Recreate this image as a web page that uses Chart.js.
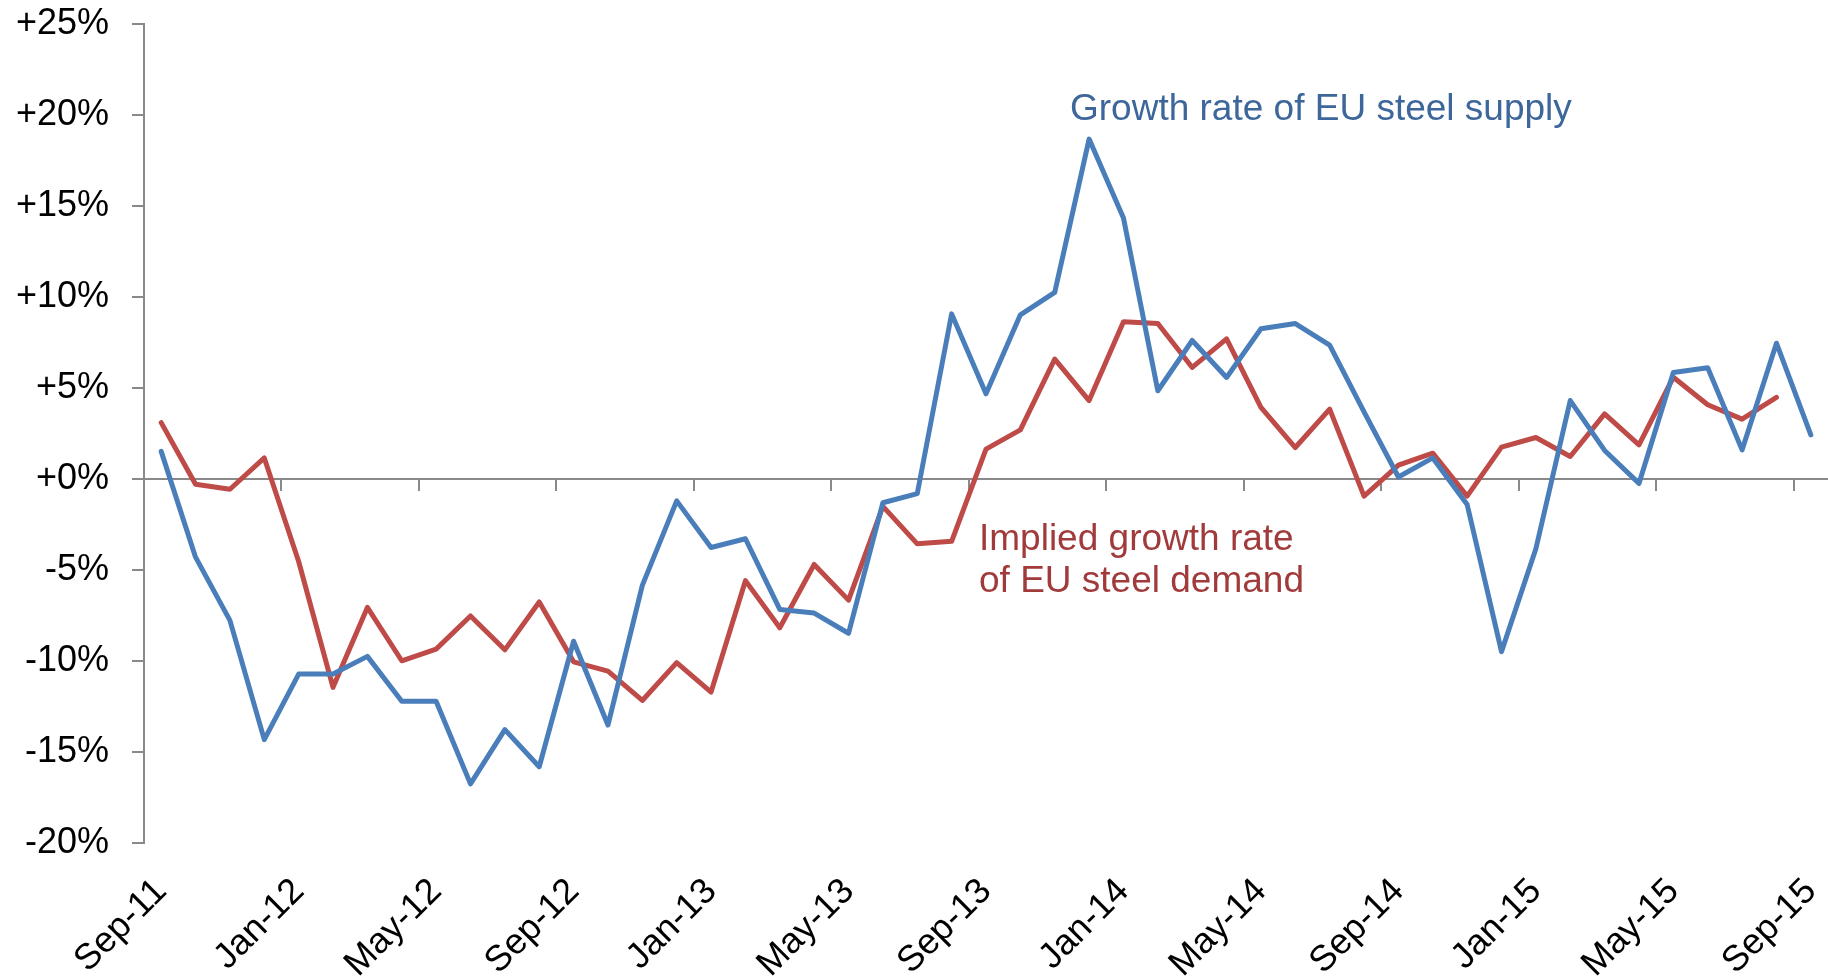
<!DOCTYPE html>
<html>
<head>
<meta charset="utf-8">
<script src="https://cdn.jsdelivr.net/npm/chart.js@4.4.1/dist/chart.umd.min.js"></script>
<style>
  html, body { margin: 0; padding: 0; background: #ffffff; }
  #wrap { width: 1828px; height: 976px; position: relative; }
</style>
</head>
<body>
<div id="wrap"><canvas id="c"></canvas></div>
<script>
// ---- data ----
const categories = [
  'Sep-11','Oct-11','Nov-11','Dec-11',
  'Jan-12','Feb-12','Mar-12','Apr-12','May-12','Jun-12','Jul-12','Aug-12','Sep-12','Oct-12','Nov-12','Dec-12',
  'Jan-13','Feb-13','Mar-13','Apr-13','May-13','Jun-13','Jul-13','Aug-13','Sep-13','Oct-13','Nov-13','Dec-13',
  'Jan-14','Feb-14','Mar-14','Apr-14','May-14','Jun-14','Jul-14','Aug-14','Sep-14','Oct-14','Nov-14','Dec-14',
  'Jan-15','Feb-15','Mar-15','Apr-15','May-15','Jun-15','Jul-15','Aug-15','Sep-15'
];

const supplyGrowth = [
  1.53, -4.28, -7.75, -14.30,
  -10.70, -10.70, -9.73, -12.19, -12.19, -16.73, -13.75, -15.79, -8.90, -13.50, -5.83, -1.19,
  -3.75, -3.27, -7.15, -7.35, -8.46, -1.29, -0.79, 9.08, 4.69, 9.03, 10.26, 18.68,
  14.34, 4.86, 7.62, 5.59, 8.26, 8.55, 7.36, 3.70, 0.12, 1.17, -1.39, -9.47,
  -3.82, 4.32, 1.58, -0.23, 5.86, 6.12, 1.61, 7.47, 2.44
];

const demandGrowth = [
  3.11, -0.28, -0.55, 1.17,
  -4.52, -11.43, -7.04, -9.97, -9.33, -7.51, -9.37, -6.74, -10.03, -10.54, -12.15, -10.07,
  -11.69, -5.57, -8.16, -4.68, -6.64, -1.49, -3.55, -3.41, 1.65, 2.71, 6.60, 4.32,
  8.65, 8.55, 6.14, 7.71, 3.94, 1.74, 3.85, -0.93, 0.77, 1.43, -0.93, 1.76,
  2.29, 1.25, 3.59, 1.89, 5.60, 4.09, 3.30, 4.50, null
];

const yTicks = [-20, -15, -10, -5, 0, 5, 10, 15, 20, 25];
const supplyLabel = 'Growth rate of EU steel supply';
const demandLabelLines = ['Implied growth rate', 'of EU steel demand'];

// ---- styles ----
const BLUE = '#4A7EBB';
const RED = '#BE4B48';
const BLUE_TEXT = '#3D679A';
const RED_TEXT = '#A13B3B';
const AXIS_GRAY = '#898989';
const FONT_FAMILY = '"Liberation Sans", Arial, Helvetica, sans-serif';

Chart.defaults.font.family = FONT_FAMILY;

const annotationPlugin = {
  id: 'seriesNotes',
  afterDatasetsDraw(chart) {
    const ctx = chart.ctx;
    ctx.save();
    ctx.textAlign = 'left';
    ctx.textBaseline = 'alphabetic';
    ctx.font = '37px ' + FONT_FAMILY;
    ctx.fillStyle = BLUE_TEXT;
    ctx.fillText(supplyLabel, 1070, 120);
    ctx.fillStyle = RED_TEXT;
    ctx.fillText(demandLabelLines[0], 979, 550);
    ctx.fillText(demandLabelLines[1], 979, 592);
    ctx.restore();
  }
};

new Chart(document.getElementById('c'), {
  type: 'line',
  data: {
    labels: categories,
    datasets: [
      {
        label: supplyLabel,
        data: supplyGrowth,
        borderColor: BLUE,
        backgroundColor: BLUE,
        borderWidth: 5,
        pointRadius: 0,
        tension: 0,
        borderJoinStyle: 'round',
        borderCapStyle: 'round',
        xAxisID: 'x',
        yAxisID: 'y'
      },
      {
        label: demandLabelLines.join(' '),
        data: demandGrowth,
        borderColor: RED,
        backgroundColor: RED,
        borderWidth: 5,
        pointRadius: 0,
        tension: 0,
        borderJoinStyle: 'round',
        borderCapStyle: 'round',
        spanGaps: false,
        xAxisID: 'x',
        yAxisID: 'y'
      }
    ]
  },
  options: {
    responsive: true,
    maintainAspectRatio: false,
    animation: false,
    layout: { padding: { top: 24, right: 0, bottom: 0, left: 0 } },
    plugins: {
      legend: { display: false },
      tooltip: { enabled: false }
    },
    scales: {
      x: {
        type: 'category',
        position: 'bottom',
        offset: true,
        grid: { display: false, drawTicks: false },
        border: { display: false },
        ticks: {
          autoSkip: false,
          maxRotation: 45,
          minRotation: 45,
          padding: 27,
          labelOffset: 0,
          color: '#000000',
          font: { size: 36 },
          callback: function (value, index) {
            return index % 4 === 0 ? this.getLabelForValue(value) : '';
          }
        },
        afterFit: function (scale) {
          scale.height = 132.6;
          scale.paddingLeft = 0;
          scale.paddingRight = 0;
        }
      },
      x0: {
        type: 'category',
        axis: 'x',
        position: { y: 0 },
        offset: true,
        grid: {
          display: true,
          offset: true,
          drawOnChartArea: false,
          drawTicks: true,
          tickLength: 11,
          lineWidth: 2,
          color: function (ctx) { return ctx.index % 4 === 0 ? AXIS_GRAY : 'rgba(0,0,0,0)'; }
        },
        border: { display: true, color: AXIS_GRAY, width: 2 },
        ticks: { display: false, autoSkip: false },
        afterFit: function (scale) {
          scale.paddingLeft = 0;
          scale.paddingRight = 0;
        }
      },
      y: {
        type: 'linear',
        position: 'left',
        min: yTicks[0],
        max: yTicks[yTicks.length - 1],
        afterBuildTicks: function (scale) { scale.ticks = yTicks.map(v => ({ value: v })); },
        grid: {
          display: true,
          drawOnChartArea: false,
          drawTicks: true,
          tickLength: 12,
          lineWidth: 2,
          color: AXIS_GRAY
        },
        border: { display: true, color: AXIS_GRAY, width: 2 },
        ticks: {
          padding: 23,
          color: '#000000',
          font: { size: 36 },
          callback: function (v) { return (v >= 0 ? '+' : '') + v + '%'; }
        },
        afterFit: function (scale) {
          scale.width = 144;
          scale.paddingTop = 0;
          scale.paddingBottom = 0;
        }
      }
    }
  },
  plugins: [annotationPlugin]
});
</script>
</body>
</html>
